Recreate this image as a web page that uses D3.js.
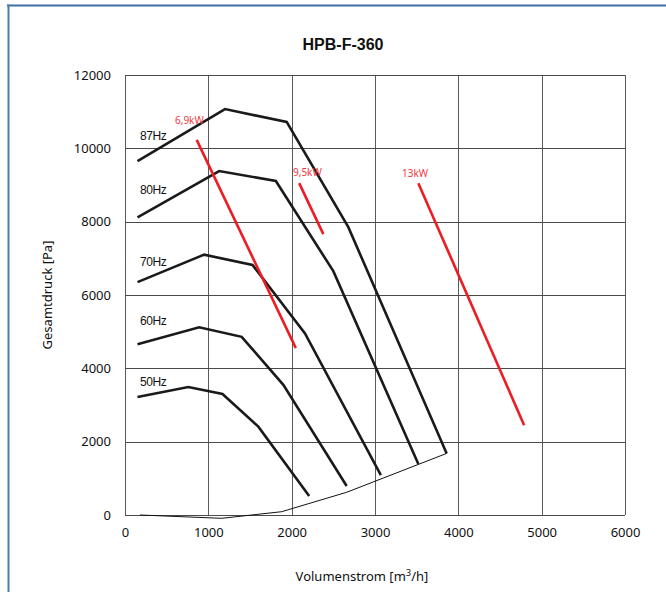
<!DOCTYPE html>
<html><head><meta charset="utf-8">
<script src="https://cdn.jsdelivr.net/npm/d3@7"></script>
<style>html,body{margin:0;padding:0;background:#fff;}svg{display:block;}</style>
</head><body>
<script>
// ---- data ----
const title = "HPB-F-360";
const xTicks = [0, 1000, 2000, 3000, 4000, 5000, 6000];
const yTicks = [0, 2000, 4000, 6000, 8000, 10000, 12000];
const freqNames = ["87Hz", "80Hz", "70Hz", "60Hz", "50Hz"];
const curve87 = [[150, 9650], [1200, 11070], [1940, 10720], [2680, 7850], [3860, 1680]];
const curve80 = [[150, 8120], [1130, 9380], [1810, 9110], [2500, 6650], [3520, 1390]];
const curve70 = [[150, 6350], [950, 7100], [1530, 6820], [2160, 4950], [3070, 1090]];
const curve60 = [[150, 4660], [890, 5120], [1400, 4860], [1900, 3550], [2660, 790]];
const curve50 = [[150, 3220], [760, 3490], [1170, 3300], [1600, 2410], [2210, 520]];
const systemCurve = [[180, 0], [1160, -90], [1880, 90], [2660, 620], [3860, 1680]];
const powerNames = ["6,9kW", "9,5kW", "13kW"];
const power69 = [[860, 10230], [2050, 4550]];
const power95 = [[2090, 9050], [2380, 7660]];
const power13 = [[3520, 9050], [4790, 2450]];
// annotation anchors (data units)
const freqLabelAt = [[180, 10230], [180, 8750], [180, 6790], [180, 5180], [180, 3510]];
const powerLabelAt = [[600, 10660], [2016, 9245], [3324, 9218]];

// ---- drawing ----
const W = 666, H = 592;
const svg = d3.select("body").append("svg").attr("width", W).attr("height", H);
const x = d3.scaleLinear().domain([0, 6000]).range([125, 625]);
const y = d3.scaleLinear().domain([0, 12000]).range([515, 75]);

// outer frame (blue)
svg.append("line").attr("x1", 7).attr("x2", W).attr("y1", 5.5).attr("y2", 5.5)
  .attr("stroke", "#3f6fa6").attr("stroke-width", 2);
svg.append("line").attr("x1", 8.5).attr("x2", 8.5).attr("y1", 4.5).attr("y2", H)
  .attr("stroke", "#4a7cb2").attr("stroke-width", 2);

// grid
const g = svg.append("g");
g.selectAll(".vx").data(xTicks).join("line")
  .attr("x1", d => Math.round(x(d)) + 0.5).attr("x2", d => Math.round(x(d)) + 0.5)
  .attr("y1", y(0)).attr("y2", y(12000))
  .attr("stroke", "#5a5a5a").attr("stroke-width", 1);
g.selectAll(".hy").data(yTicks).join("line")
  .attr("y1", d => Math.round(y(d)) + 0.5).attr("y2", d => Math.round(y(d)) + 0.5)
  .attr("x1", x(0)).attr("x2", x(6000))
  .attr("stroke", "#4a4a4a").attr("stroke-width", 1);

// axes labels using d3 axes
const fontTick = "'Noto Sans', 'Open Sans', sans-serif";
const yAxis = svg.append("g").attr("transform", `translate(${x(0)},0)`)
  .call(d3.axisLeft(y).tickValues(yTicks).tickSize(0).tickPadding(14).tickFormat(d3.format("d")));
const xAxis = svg.append("g").attr("transform", `translate(0,${y(0)})`)
  .call(d3.axisBottom(x).tickValues(xTicks).tickSize(0).tickPadding(13).tickFormat(d3.format("d")));
[yAxis, xAxis].forEach(a => {
  a.select(".domain").remove();
  a.selectAll("text").attr("font-family", fontTick).attr("font-size", 13).attr("fill", "#111");
});

// title
svg.append("text").attr("x", 343).attr("y", 50).attr("text-anchor", "middle")
  .attr("font-family", "'Liberation Sans', Arial, sans-serif").attr("font-weight", "bold")
  .attr("font-size", 16).attr("fill", "#111").text(title);

// axis titles
svg.append("text").attr("transform", `translate(52,${(y(0) + y(12000)) / 2}) rotate(-90)`)
  .attr("text-anchor", "middle").attr("font-family", fontTick).attr("font-size", 13)
  .attr("fill", "#111").text("Gesamtdruck [Pa]");
const xt = svg.append("text").attr("x", 362).attr("y", 581).attr("text-anchor", "middle")
  .attr("font-family", fontTick).attr("font-size", 13).attr("fill", "#111");
xt.append("tspan").text("Volumenstrom [m");
xt.append("tspan").attr("dy", -5).attr("font-size", 9.5).text("3");
xt.append("tspan").attr("dy", 5).text("/h]");

// curves
const line = d3.line().x(d => x(d[0])).y(d => y(d[1]));
svg.append("path").datum(systemCurve).attr("d", line).attr("fill", "none")
  .attr("stroke", "#111").attr("stroke-width", 1);
[curve87, curve80, curve70, curve60, curve50].forEach(c => {
  svg.append("path").datum(c).attr("d", line).attr("fill", "none")
    .attr("stroke", "#1a1a1a").attr("stroke-width", 2.6).attr("stroke-linejoin", "miter");
});
[power69, power95, power13].forEach(c => {
  svg.append("path").datum(c).attr("d", line).attr("fill", "none")
    .attr("stroke", "#ec1c24").attr("stroke-width", 2.6);
});

// labels
freqNames.forEach((n, i) => {
  svg.append("text").attr("x", x(freqLabelAt[i][0])).attr("y", y(freqLabelAt[i][1]))
    .attr("font-family", "'Liberation Sans', Arial, sans-serif").attr("font-size", 12)
    .attr("letter-spacing", -0.4).attr("fill", "#111").text(n);
});
powerNames.forEach((n, i) => {
  svg.append("text").attr("x", x(powerLabelAt[i][0])).attr("y", y(powerLabelAt[i][1]))
    .attr("font-family", fontTick).attr("font-size", 10)
    .attr("fill", "#ee3a3f").text(n);
});
</script>
</body></html>
